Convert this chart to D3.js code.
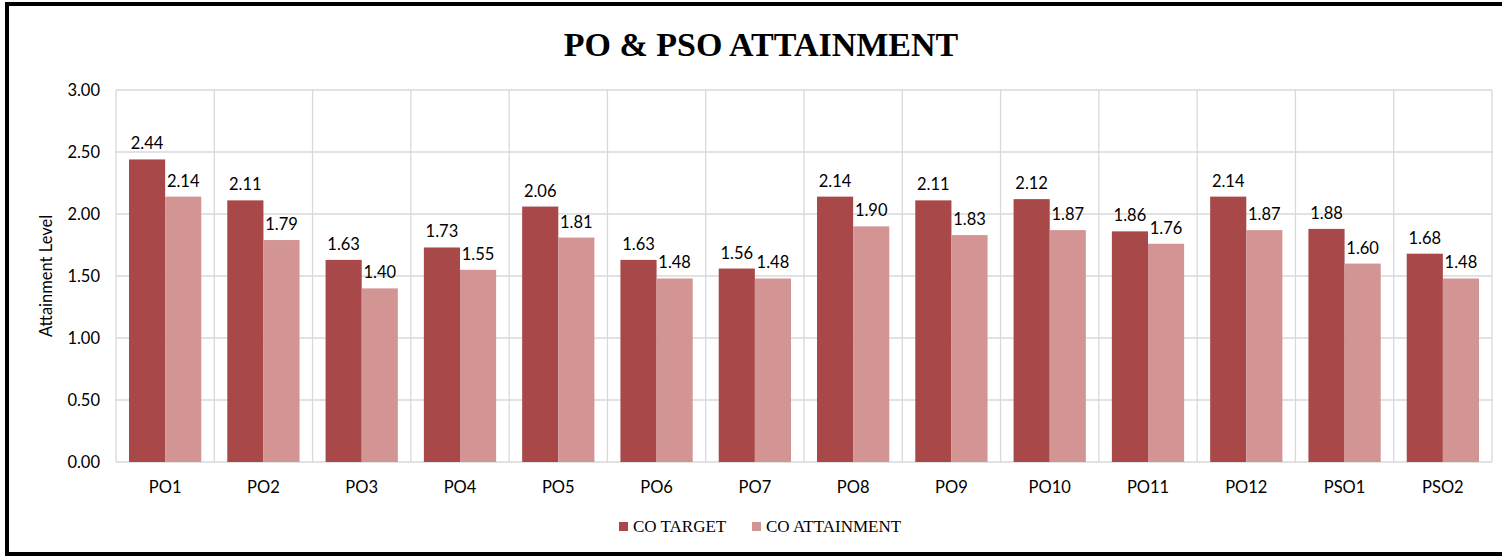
<!DOCTYPE html>
<html>
<head>
<meta charset="utf-8">
<script src="https://cdn.jsdelivr.net/npm/d3@7"></script>
<style>
  body { margin: 0; background: #fff; }
  svg { display: block; }
</style>
</head>
<body>
<div id="chart"></div>
<script>
// values
const categories = ['PO1', 'PO2', 'PO3', 'PO4', 'PO5', 'PO6', 'PO7', 'PO8', 'PO9', 'PO10', 'PO11', 'PO12', 'PSO1', 'PSO2'];
const coTarget = [2.44, 2.11, 1.63, 1.73, 2.06, 1.63, 1.56, 2.14, 2.11, 2.12, 1.86, 2.14, 1.88, 1.68];
const coAttainment = [2.14, 1.79, 1.40, 1.55, 1.81, 1.48, 1.48, 1.90, 1.83, 1.87, 1.76, 1.87, 1.60, 1.48];
const yTicks = [0, 0.5, 1, 1.5, 2, 2.5, 3];
const seriesNames = ['CO TARGET', 'CO ATTAINMENT'];
const colors = ['#A84848', '#D39494'];

const W = 1502, H = 558;
const m = { left: 116, right: 10, top: 90, bottom: 96 };

const svg = d3.select('#chart').append('svg')
        .attr('width', W)
        .attr('height', H);

// outer frame
svg.append('rect')
        .attr('x', 7).attr('y', 4)
        .attr('width', W + 20).attr('height', 550)
        .attr('fill', 'none')
        .attr('stroke', '#000')
        .attr('stroke-width', 4);

svg.append('text')
        .attr('x', 761).attr('y', 56)
        .attr('text-anchor', 'middle')
        .style('font-family', '"Liberation Serif", serif')
        .style('font-weight', 'bold')
        .style('font-size', '34px')
        .text('PO & PSO ATTAINMENT');

const x = d3.scaleBand().domain(categories).range([m.left, W - m.right]).paddingInner(0).paddingOuter(0);
const y = d3.scaleLinear().domain([0, 3]).range([H - m.bottom, m.top]);
const sub = d3.scaleBand().domain([0, 1]).range([0, x.bandwidth()]).paddingOuter(0.36).paddingInner(0);

const font = 'Lato, "Open Sans", sans-serif';
const fs = '16.5px';

// grid
const grid = svg.append('g').attr('stroke', '#d9d9d9').attr('stroke-width', 1.3);
grid.selectAll('.h').data(yTicks).join('line')
        .attr('x1', m.left).attr('x2', W - m.right)
        .attr('y1', d => y(d)).attr('y2', d => y(d));
grid.selectAll('.v').data(categories.concat(['end'])).join('line')
        .attr('x1', d => d === 'end' ? W - m.right : x(d))
        .attr('x2', d => d === 'end' ? W - m.right : x(d))
        .attr('y1', y(3)).attr('y2', y(0));

// y axis
const yAxis = svg.append('g')
        .attr('transform', `translate(${m.left},0)`)
        .call(d3.axisLeft(y).tickValues(yTicks).tickFormat(d3.format('.2f')).tickSize(0).tickPadding(16));
yAxis.select('.domain').remove();
yAxis.selectAll('text').style('font-family', font).style('font-size', fs).attr('fill', '#000');

// x axis
const xAxis = svg.append('g')
        .attr('transform', `translate(0,${y(0)})`)
        .call(d3.axisBottom(x).tickSize(0).tickPadding(19));
xAxis.select('.domain').remove();
xAxis.selectAll('text').style('font-family', font).style('font-size', fs).attr('fill', '#000');

svg.append('text')
        .attr('transform', `translate(52,${(y(0) + y(3)) / 2}) rotate(-90)`)
        .attr('text-anchor', 'middle')
        .style('font-family', font)
        .style('font-size', fs)
        .text('Attainment Level');

// bars
const rows = categories.map((c, i) => ({ cat: c, vals: [coTarget[i], coAttainment[i]] }));
const groups = svg.selectAll('.grp').data(rows).join('g')
        .attr('transform', d => `translate(${x(d.cat)},0)`);

groups.selectAll('rect').data(d => d.vals).join('rect')
        .attr('x', (d, i) => sub(i))
        .attr('width', sub.bandwidth())
        .attr('y', d => y(d))
        .attr('height', d => y(0) - y(d))
        .attr('fill', (d, i) => colors[i]);

groups.selectAll('.lbl').data(d => d.vals).join('text')
        .attr('x', (d, i) => sub(i) + sub.bandwidth() / 2)
        .attr('y', d => y(d) - 10)
        .attr('text-anchor', 'middle')
        .style('font-family', font)
        .style('font-size', fs)
        .text(d => d.toFixed(2));

// legend
const legend = svg.append('g');
const legX = [619, 752];
seriesNames.forEach((n, i) => {
        legend.append('rect')
                .attr('x', legX[i]).attr('y', 522)
                .attr('width', 9).attr('height', 9)
                .attr('fill', colors[i]);
        legend.append('text')
                .attr('x', legX[i] + 14).attr('y', 532)
                .style('font-family', '"Liberation Serif", serif')
                .style('font-size', '17px')
                .text(n);
});
</script>
</body>
</html>
